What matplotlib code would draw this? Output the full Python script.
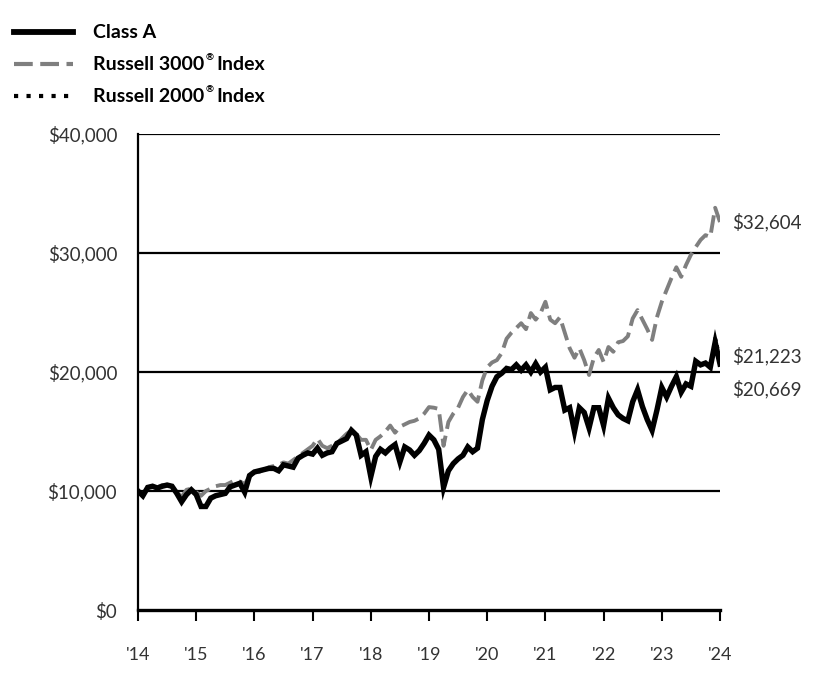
import numpy as np
import matplotlib.pyplot as plt
from matplotlib.lines import Line2D

plt.rcParams['font.family'] = ['Lato', 'DejaVu Sans']

# valores mensais (em milhares de dólares)
class_a = [10.0, 9.6, 10.3, 10.4, 10.25, 10.4, 10.5, 10.4, 9.8, 9.1,
           9.7, 10.1, 9.7, 8.7, 8.7, 9.4, 9.6, 9.7, 9.8, 10.35,
           10.5, 10.65, 9.9, 11.3, 11.6, 11.7, 11.8, 11.9, 11.9, 11.7,
           12.2, 12.1, 12.0, 12.75, 13.0, 13.2, 13.1, 13.6, 13.0, 13.2,
           13.3, 14.0, 14.2, 14.4, 15.1, 14.7, 13.0, 13.3, 11.2, 12.9,
           13.5, 13.2, 13.6, 13.9, 12.45, 13.7, 13.45, 13.0, 13.4, 14.0,
           14.7, 14.3, 13.5, 10.3, 11.7, 12.3, 12.7, 13.0, 13.7, 13.3,
           13.6, 16.0, 17.6, 18.8, 19.6, 19.9, 20.3, 20.2, 20.6, 20.15,
           20.6, 20.0, 20.7, 20.0, 20.4, 18.5, 18.7, 18.7, 16.8, 17.0,
           15.0, 17.0, 16.6, 15.3, 17.0, 17.0, 15.5, 17.8, 17.0, 16.4,
           16.1, 15.9, 17.5, 18.5, 17.1, 16.0, 15.1, 16.8, 18.7, 17.9,
           18.8, 19.6, 18.3, 19.0, 18.8, 20.9, 20.6, 20.75, 20.4, 22.5,
           20.669]

russell_3000 = [10.0, 9.7, 10.3, 10.4, 10.3, 10.5, 10.5, 10.4, 9.9, 9.5,
                10.1, 10.2, 9.9, 9.6, 10.0, 10.2, 10.4, 10.5, 10.5, 10.7,
                10.9, 10.8, 10.6, 11.2, 11.5, 11.6, 11.8, 12.0, 12.1, 12.2,
                12.4, 12.3, 12.6, 12.9, 13.2, 13.5, 13.8, 14.4, 13.8, 13.6,
                13.8, 14.0, 14.4, 14.8, 15.1, 14.8, 14.3, 14.3, 13.45, 14.3,
                14.6, 15.0, 15.5, 14.9, 15.4, 15.6, 15.8, 15.9, 16.1, 16.5,
                17.05, 17.0, 16.9, 13.8, 15.8, 16.5, 17.0, 17.9, 18.5, 17.9,
                17.5, 19.3, 20.4, 20.8, 21.0, 21.6, 22.8, 23.3, 23.7, 24.1,
                23.6, 24.95, 24.4, 24.95, 25.9, 24.4, 24.1, 24.6, 23.3, 22.0,
                21.2, 22.0, 21.0, 19.75, 21.2, 21.85, 20.85, 22.1, 21.7, 22.5,
                22.6, 23.0, 24.5, 25.2, 24.4, 23.6, 22.7, 24.6, 25.9, 26.9,
                27.9, 28.8, 28.0, 29.0, 29.85, 30.5, 31.1, 31.5, 31.35, 33.8,
                32.604]

russell_2000 = [10.0, 9.6, 10.3, 10.4, 10.2, 10.4, 10.5, 10.4, 9.8, 9.1,
                9.7, 10.1, 9.7, 8.7, 8.7, 9.4, 9.6, 9.7, 9.8, 10.35,
                10.5, 10.6, 9.9, 11.3, 11.6, 11.7, 11.8, 11.9, 11.9, 11.7,
                12.2, 12.1, 12.0, 12.7, 13.0, 13.2, 13.1, 13.6, 13.0, 13.2,
                13.3, 14.0, 14.2, 14.4, 15.1, 14.7, 13.0, 13.3, 11.2, 12.9,
                13.5, 13.2, 13.6, 13.9, 12.45, 13.7, 13.45, 13.0, 13.4, 14.0,
                14.7, 14.3, 13.5, 10.3, 11.7, 12.3, 12.7, 13.0, 13.7, 13.3,
                13.6, 16.0, 17.6, 18.8, 19.6, 19.9, 20.3, 20.2, 20.6, 20.15,
                20.6, 20.0, 20.7, 20.0, 20.4, 18.5, 18.7, 18.7, 16.8, 17.0,
                15.0, 17.0, 16.6, 15.3, 17.0, 17.0, 15.5, 17.8, 17.0, 16.4,
                16.1, 15.9, 17.5, 18.5, 17.1, 16.0, 15.1, 16.8, 18.7, 17.9,
                18.8, 19.6, 18.3, 19.0, 18.8, 20.9, 20.6, 20.75, 20.4, 23.0,
                21.223]

anos = ["'14", "'15", "'16", "'17", "'18", "'19", "'20", "'21", "'22", "'23", "'24"]
yticks = [0, 10000, 20000, 30000, 40000]

meses = np.arange(len(class_a))
a = np.array(class_a) * 1000
r3 = np.array(russell_3000) * 1000
r2 = np.array(russell_2000) * 1000

fig = plt.figure(figsize=(8.4, 6.96), dpi=100)
ax = fig.add_axes([138 / 840, 86 / 696, 582 / 840, 476 / 696])

# linhas de grade horizontais
for yv in yticks[1:]:
    ax.axhline(yv, color='black', lw=1.6, zorder=1)

ax.plot(meses, r3, color='#7f7f7f', lw=2.8, dashes=(4.5, 1.8), zorder=2)
ax.plot(meses, a, color='black', lw=3.9, solid_joinstyle='miter', zorder=3)
ax.plot(meses, r2, color='black', lw=2.2, linestyle=(0, (1, 1.2)), zorder=4)

ax.set_xlim(0, meses[-1])
ax.set_ylim(0, 40000)
ax.set_xticks(np.arange(0, 121, 12))
ax.set_xticklabels(anos, fontsize=13, color='#333333')
ax.set_yticks(yticks)
ax.set_yticklabels(['${:,.0f}'.format(v) for v in yticks], fontsize=13.5, color='#333333')
ax.tick_params(axis='x', direction='out', length=8, width=1.5, pad=19)
ax.tick_params(axis='y', length=0, pad=15)
for s in ['top', 'right']:
    ax.spines[s].set_visible(False)
ax.spines['left'].set_linewidth(1.6)
ax.spines['bottom'].set_linewidth(2.4)

# valores finais
ax.annotate('${:,.0f}'.format(r3[-1]), (meses[-1], r3[-1]), xytext=(9, 0),
            textcoords='offset points', va='center', fontsize=13.5, color='#333333',
            annotation_clip=False)
ax.annotate('${:,.0f}'.format(r2[-1]), (meses[-1], r2[-1]), xytext=(9, 1),
            textcoords='offset points', va='center', fontsize=13.5, color='#333333',
            annotation_clip=False)
ax.annotate('${:,.0f}'.format(a[-1]), (meses[-1], a[-1]), xytext=(9, -18),
            textcoords='offset points', va='center', fontsize=13.5, color='#333333',
            annotation_clip=False)

# legenda manual
W, H = 840, 696
itens = [('Class A', dict(color='black', lw=4.2)),
         ('Russell 3000', dict(color='#7f7f7f', lw=3, dashes=(4.5, 1.8))),
         ('Russell 2000', dict(color='black', lw=3, linestyle=(0, (1, 2))))]
for i, (nome, estilo) in enumerate(itens):
    yc = 1 - (32 + 32 * i) / H
    fig.add_artist(Line2D([14 / W, 73 / W], [yc, yc], transform=fig.transFigure, **estilo))
    t = fig.text(93 / W, yc, nome, fontsize=14, fontweight='bold', va='center')
    if i > 0:
        fig.canvas.draw()
        bb = t.get_window_extent()
        fig.text(bb.x1 / W + 1 / W, yc + 6 / H, '®', fontsize=7, fontweight='bold', va='center')
        fig.text(bb.x1 / W + 12 / W, yc, 'Index', fontsize=14, fontweight='bold', va='center')

fig.savefig('out.png', dpi=100)
